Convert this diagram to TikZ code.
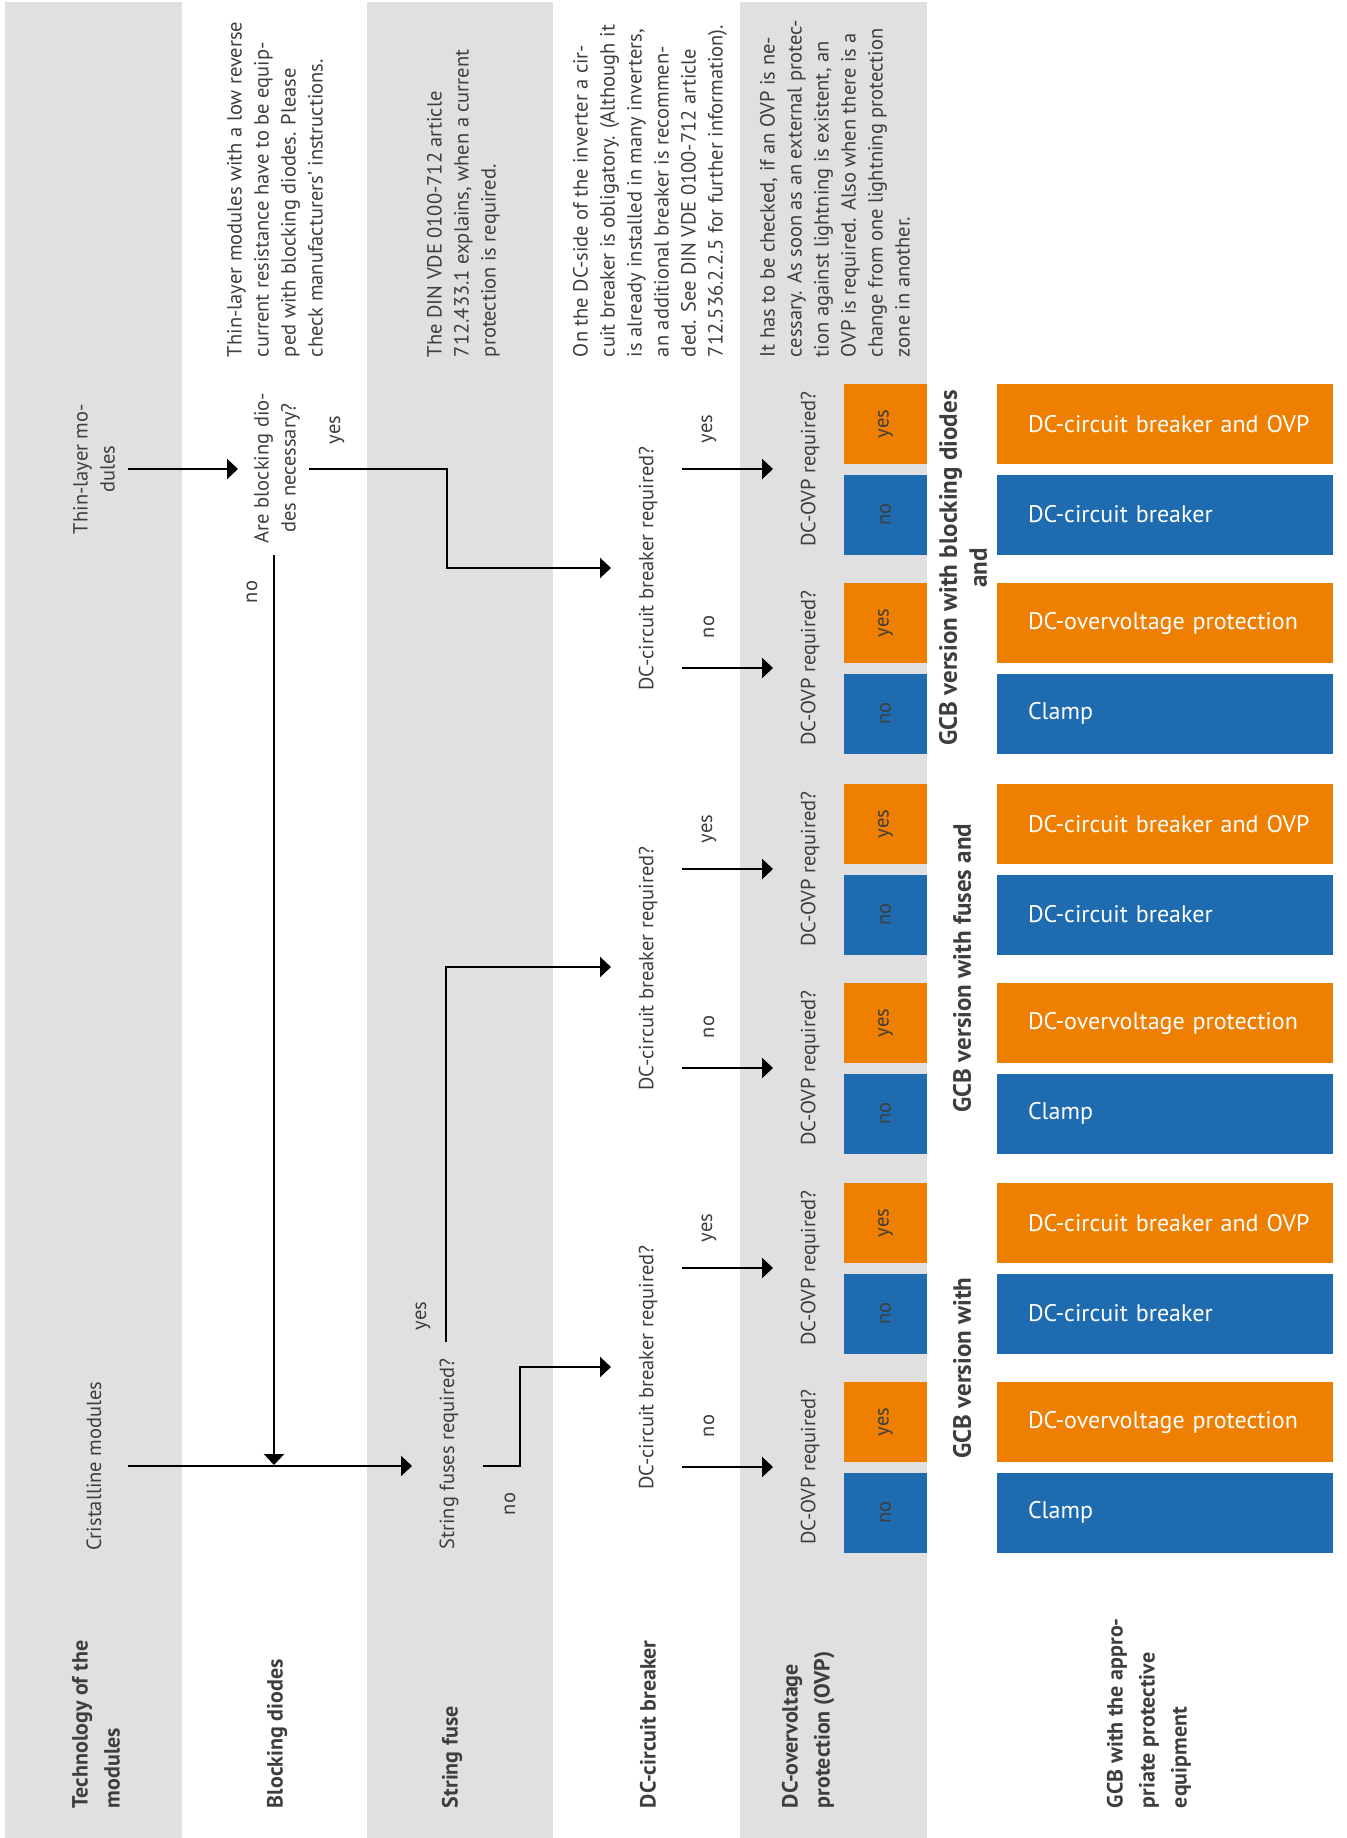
\documentclass[tikz,border=0pt]{standalone}
\usepackage{fontspec}
\setmainfont{PT Sans}
\usetikzlibrary{arrows.meta}
\definecolor{bandgrey}{RGB}{224,224,224}
\definecolor{gcborange}{RGB}{238,127,0}
\definecolor{gcbblue}{RGB}{31,107,176}
\definecolor{txtgrey}{RGB}{62,62,62}
\newcommand\gcbrestext[1]{\makebox[274pt][l]{#1}}
\begin{document}
\begin{tikzpicture}[x=1pt, y=-1pt,
  every node/.style={inner sep=0pt, outer sep=0pt, text=txtgrey},
  body/.style={rotate=90, font=\fontsize{20.5}{27}\selectfont},
  para/.style={body, anchor=north west, align=left},
  head/.style={rotate=90, anchor=north west, align=left, font=\fontsize{22}{32}\selectfont\bfseries},
  gcbv/.style={rotate=90, align=center, font=\fontsize{25}{30}\selectfont\bfseries},
  conn/.style={line width=2.3pt, black},
  arr/.style={conn, -{Triangle[length=11pt,width=20pt]}},
  smallbox/.style={body, minimum width=80pt, minimum height=83pt},
  resbox/.style={minimum width=336pt, minimum height=80pt, text width=274pt, inner xsep=31pt, align=left, text=white, font=\fontsize{24}{28}\selectfont},
]
\useasboundingbox (0,0) rectangle (1346,1838);
% bands
\fill[bandgrey] (5,2) rectangle (182,1838);
\fill[bandgrey] (367,2) rectangle (553,1838);
\fill[bandgrey] (740,2) rectangle (927,1838);

% headers
\node[head] (h1) at (72,1808) {Technology of the\\modules};
\node[head] (h2) at (267,1808) {Blocking diodes};
\node[head] (h3) at (442,1808) {String fuse};
\node[head] (h4) at (640,1808) {DC-circuit breaker};
\node[head] (h5) at (782,1808) {DC-overvoltage\\protection (OVP)};
\node[head] (h6) at (1107,1808) {GCB with the appro-\\priate protective\\equipment};

% explanatory paragraphs
\node[para] (p2) at (227,357) {Thin-layer modules with a low reverse\\current resistance have to be equip-\\ped with blocking diodes. Please\\check manufacturers’ instructions.};
\node[para] (p3) at (427,357) {The DIN VDE 0100-712 article\\712.433.1 explains, when a current\\protection is required.};
\node[para] (p4) at (573,357) {On the DC-side of the inverter a cir-\\cuit breaker is obligatory. (Although it\\is already installed in many inverters,\\an additional breaker is recommen-\\ded. See DIN VDE 0100-712 article\\712.536.2.2.5 for further information).};
\node[para] (p5) at (760,357) {It has to be checked, if an OVP is ne-\\cessary. As soon as an external protec-\\tion against lightning is existent, an\\OVP is required. Also when there is a\\change from one lightning protection\\zone in another.};

% column 1
\node[body, align=center] (thin) at (94,469) {Thin-layer mo-\\dules};
\node[body] (crist) at (94,1466) {Cristalline modules};
% column 2
\node[body, align=center] (blk) at (277,468) {Are blocking dio-\\des necessary?};
\node[body] (blkyes) at (337,430) {yes};
\node[body] (blkno) at (252,592) {no};
% column 3
\node[body] (sfr) at (449,1454) {String fuses required?};
\node[body] (sfryes) at (423,1316) {yes};
\node[body] (sfrno) at (510,1504) {no};

% connectors, first columns
\coordinate (thinOut) at (128,469);
\coordinate (blkIn) at (238,469);
\draw[arr] (thinOut) -- (blkIn);
\coordinate (cristOut) at (128,1466);
\coordinate (sfrIn) at (412,1466);
\draw[arr] (cristOut) -- (sfrIn);
\coordinate (blkNo) at (274,555);
\coordinate (join) at (274,1465);
\draw[arr] (blkNo) -- (join);
\coordinate (blkYes) at (309,469);
\coordinate (dcbIn1) at (611,568);
\draw[arr] (blkYes) -- (447,469) -- (447,568) -- (dcbIn1);
\coordinate (sfrYes) at (446,1342);
\coordinate (dcbIn2) at (611,967);
\draw[arr] (sfrYes) -- (446,967) -- (dcbIn2);
\coordinate (sfrNo) at (483,1466);
\coordinate (dcbIn3) at (611,1367);
\draw[arr] (sfrNo) -- (520,1466) -- (520,1367) -- (dcbIn3);

% groups
\foreach \g/\cy/\cn in {1/469/668, 2/869/1068, 3/1268/1467} {
  \node[body] (dcb\g) at (648,{(\cy+\cn)/2}) {DC-circuit breaker required?};
  \node[body] (dcbyes\g) at (709,\cy-40) {yes};
  \node[body] (dcbno\g) at (709,\cn-41) {no};
  \coordinate (dcbY\g) at (682,\cy);
  \coordinate (ovpY\g) at (773,\cy);
  \coordinate (dcbN\g) at (682,\cn);
  \coordinate (ovpN\g) at (773,\cn);
  \draw[arr] (dcbY\g) -- (ovpY\g);
  \draw[arr] (dcbN\g) -- (ovpN\g);
  \node[body] (ovpa\g) at (810,\cy) {DC-OVP required?};
  \node[body] (ovpb\g) at (810,\cn) {DC-OVP required?};
  \node[smallbox, fill=gcborange] (ya\g) at (885.5,\cy-45) {yes};
  \node[smallbox, fill=gcbblue] (na\g) at (885.5,\cy+45.5) {no};
  \node[smallbox, fill=gcborange] (yb\g) at (885.5,\cn-45) {yes};
  \node[smallbox, fill=gcbblue] (nb\g) at (885.5,\cn+45.5) {no};
  \node[resbox, fill=gcborange] (ra\g) at (1165,\cy-45) {\gcbrestext{DC-circuit breaker and OVP}};
  \node[resbox, fill=gcbblue] (rb\g) at (1165,\cy+45.5) {\gcbrestext{DC-circuit breaker}};
  \node[resbox, fill=gcborange] (rc\g) at (1165,\cn-45) {\gcbrestext{DC-overvoltage protection}};
  \node[resbox, fill=gcbblue] (rd\g) at (1165,\cn+45.5) {\gcbrestext{Clamp}};
}
\node[gcbv] (v1) at (963,568) {GCB version with blocking diodes\\and};
\node[gcbv] (v2) at (962,968) {GCB version with fuses and};
\node[gcbv] (v3) at (962,1368) {GCB version with};
\end{tikzpicture}
\end{document}
